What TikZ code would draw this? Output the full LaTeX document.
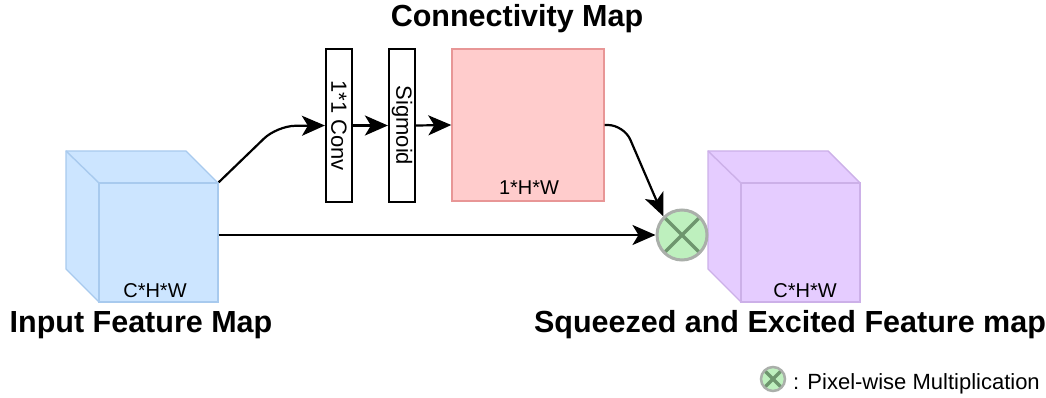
\documentclass[tikz,border=0pt]{standalone}
\usepackage{fontspec}
\setmainfont{Liberation Sans}
\usetikzlibrary{arrows.meta}
\definecolor{cubeblue}{RGB}{204,229,255}
\definecolor{cubeblueline}{RGB}{168,202,238}
\definecolor{cubepurple}{RGB}{229,204,255}
\definecolor{cubepurpleline}{RGB}{204,176,232}
\definecolor{mappink}{RGB}{255,204,204}
\definecolor{mappinkline}{RGB}{232,150,150}
\definecolor{multgreen}{RGB}{190,240,190}
\definecolor{multborder}{RGB}{170,175,170}
\definecolor{multcross}{RGB}{110,150,110}
\tikzset{
  arr/.style={line width=2.2pt,-{Stealth[length=23pt,width=20pt,inset=6pt]}},
  blk/.style={draw=black,line width=2.2pt,fill=white,minimum width=26pt,minimum height=153pt,inner sep=0pt},
  rlabel/.style={rotate=-90,font=\fontsize{22}{26}\selectfont,inner sep=0pt},
  title/.style={font=\fontsize{30.5}{36}\selectfont\bfseries,anchor=base,inner sep=0pt},
  small/.style={font=\fontsize{20}{24}\selectfont,anchor=base,inner sep=0pt},
  face/.style={minimum width=119pt,minimum height=119pt,inner sep=0pt,line width=1.4pt},
  multnode/.style={circle,draw=multborder,line width=3pt,fill=multgreen,inner sep=0pt,
    path picture={\draw[multcross,line width=3.5pt]
      (path picture bounding box.north west) -- (path picture bounding box.south east)
      (path picture bounding box.north east) -- (path picture bounding box.south west);}},
}
\begin{document}
\begin{tikzpicture}[x=1pt,y=-1pt]
\useasboundingbox (0,0) rectangle (1046,398);
% input cube (back part)
\filldraw[fill=cubeblue,draw=cubeblueline,line width=1.4pt]
  (66,151) -- (186,151) -- (218,183) -- (218,302) -- (99,302) -- (66,269) -- cycle;
\draw[cubeblueline,line width=1.4pt] (66,151) -- (99,183);
\node[face,draw=cubeblueline,fill=cubeblue] (infront) at (158.5,242.5) {};
\node[small] (inlbl) at (155,297) {C*H*W};
% output cube (back part)
\filldraw[fill=cubepurple,draw=cubepurpleline,line width=1.4pt]
  (708,151) -- (828,151) -- (860,183) -- (860,302) -- (741,302) -- (708,269) -- cycle;
\draw[cubepurpleline,line width=1.4pt] (708,151) -- (741,183);
\node[face,draw=cubepurpleline,fill=cubepurple] (outfront) at (800.5,242.5) {};
\node[small] (outlbl) at (805,297) {C*H*W};
% conv and sigmoid
\node[blk] (conv) at (339,125.5) {};
\node[rlabel] (convlbl) at (conv) {1*1 Conv};
\node[blk] (sig) at (402,125.5) {};
\node[rlabel] (siglbl) at (sig) {Sigmoid};
% connectivity map
\node[draw=mappinkline,fill=mappink,line width=1.4pt,minimum width=152pt,minimum height=152pt,inner sep=0pt] (cmap) at (528,125) {};
\node[small] (cmaplbl) at (529,195) {1*H*W};
% multiplication
\node[multnode,minimum size=50pt] (mult) at (682,235) {};
% titles
\node[title] (ttop) at (517,27) {Connectivity Map};
\node[title] (tin) at (141,332) {Input Feature Map};
\node[title] (tout) at (790,332) {Squeezed and Excited Feature map};
% connectors
\draw[arr,rounded corners=18pt] (infront.north east) -- (277,126) -- (conv.west);
\draw[arr] (conv.east) -- (sig.west);
\draw[arr] (sig.east) -- (cmap.west);
\draw[arr,rounded corners=16pt] (cmap.east) -- (624,125) -- (mult.135);
\draw[arr] (infront.east |- mult.west) -- (mult.west);
% legend
\node[multnode,minimum size=24pt,line width=2.5pt] (legmult) at (773,379) {};
\node[font=\fontsize{22}{26}\selectfont,anchor=base west,inner sep=0pt] (legtxt) at (793,389) {: Pixel-wise Multiplication};
\end{tikzpicture}
\end{document}
